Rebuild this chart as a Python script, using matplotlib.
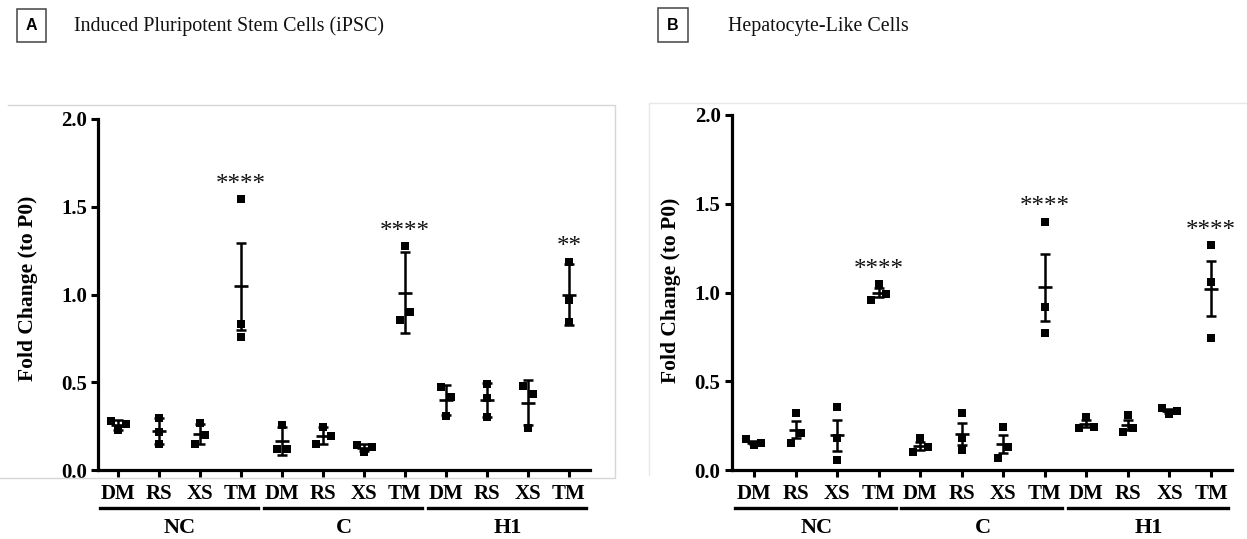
import numpy as np
import matplotlib
matplotlib.use("Agg")
import matplotlib.pyplot as plt
from matplotlib.lines import Line2D
from matplotlib.patches import Rectangle
from matplotlib.transforms import blended_transform_factory, ScaledTranslation

# ---------------------------------------------------------------- data
treatments = ["DM", "RS", "XS", "TM"]
cell_lines = ["NC", "C", "H1"]

# triplicate fold changes (to P0), one list per cell line x treatment
ipsc_values = [
    [0.281, 0.228, 0.260], [0.295, 0.218, 0.150], [0.266, 0.148, 0.200], [1.544, 0.833, 0.760],
    [0.256, 0.118, 0.118], [0.146, 0.243, 0.195], [0.142, 0.104, 0.133], [0.852, 1.278, 0.903],
    [0.475, 0.418, 0.308], [0.490, 0.409, 0.300], [0.479, 0.432, 0.238], [1.188, 0.966, 0.846],
]
ipsc_error = [0.027, 0.073, 0.059, 0.250, 0.080, 0.049, 0.020, 0.233, 0.085, 0.095, 0.128, 0.174]
ipsc_sig = ["", "", "", "****", "", "", "", "****", "", "", "", "**"]

hlc_values = [
    [0.173, 0.141, 0.150], [0.323, 0.154, 0.207], [0.353, 0.178, 0.056], [0.958, 1.048, 0.993],
    [0.103, 0.178, 0.128], [0.323, 0.178, 0.114], [0.244, 0.070, 0.128], [1.399, 0.920, 0.770],
    [0.238, 0.300, 0.244], [0.310, 0.216, 0.235], [0.351, 0.314, 0.332], [1.268, 1.057, 0.742],
]
hlc_error = [0.010, 0.050, 0.086, 0.026, 0.022, 0.062, 0.051, 0.190, 0.020, 0.029, 0.011, 0.153]
hlc_sig = ["", "", "", "****", "", "", "", "****", "", "", "", "****"]

y_ticks = [0.0, 0.5, 1.0, 1.5, 2.0]

# ---------------------------------------------------------------- figure
W, H, DPI = 1247, 539, 100
plt.rcParams["font.family"] = ["Liberation Serif", "DejaVu Serif"]
fig = plt.figure(figsize=(W / DPI, H / DPI), dpi=DPI)


def px_box(x0, y0, x1, y1):
    """Axes rectangle from pixel corners (top-left origin)."""
    return [x0 / W, 1 - y1 / H, (x1 - x0) / W, (y1 - y0) / H]


def fig_line(xs, ys, color, lw):
    fig.add_artist(Line2D([x / W for x in xs], [1 - y / H for y in ys],
                          transform=fig.transFigure, color=color, lw=lw))


def swarm_offsets(vals, y_thr, pair_dx, trip_dx):
    """Spread replicates that would overlap vertically, GraphPad style."""
    vals = np.asarray(vals)
    order = np.argsort(vals)
    clusters, cur = [], [order[0]]
    for a, b in zip(order[:-1], order[1:]):
        if vals[b] - vals[a] < y_thr:
            cur.append(b)
        else:
            clusters.append(cur)
            cur = [b]
    clusters.append(cur)
    off = np.zeros(len(vals))
    for cl in clusters:
        cl = sorted(cl)
        if len(cl) == 2:
            off[cl[0]], off[cl[1]] = -pair_dx, pair_dx
        elif len(cl) >= 3:
            for k, i in enumerate(cl):
                off[i] = (k - (len(cl) - 1) / 2) * trip_dx
    return off


def draw_panel(rect, xlim, values, errors, sigs, ylab_xy):
    ax = fig.add_axes(rect)
    ax.set_xlim(*xlim)
    ax.set_ylim(0, 2.0)
    for s in ("top", "right"):
        ax.spines[s].set_visible(False)
    for s in ("left", "bottom"):
        ax.spines[s].set_linewidth(2.3)
        ax.spines[s].set_capstyle("projecting")

    n = len(cell_lines) * len(treatments)
    pos = np.arange(n)
    ax.set_xticks(pos)
    ax.set_xticklabels(treatments * len(cell_lines))
    ax.set_yticks(y_ticks)
    ax.set_yticklabels([f"{t:.1f}" for t in y_ticks])
    ax.tick_params(axis="both", direction="out", length=5, width=2.2,
                   labelsize=15, pad=3)
    ax.tick_params(axis="x", pad=5)
    for lab in ax.get_xticklabels() + ax.get_yticklabels():
        lab.set_fontweight("bold")

    # pixel scales for the swarm spread
    p0 = ax.transData.transform((0, 0))
    p1 = ax.transData.transform((1, 1))
    px_x, px_y = p1[0] - p0[0], p1[1] - p0[1]

    for i in range(n):
        vals = np.asarray(values[i])
        m = vals.mean()
        offs = swarm_offsets(vals, 11 / px_y, 5 / px_x, 7.5 / px_x)
        ax.errorbar(pos[i], m, yerr=errors[i], fmt="none", ecolor="black",
                    elinewidth=1.8, capsize=3.4, capthick=1.8, zorder=2)
        ax.plot(pos[i], m, marker="_", ms=10, mew=1.9, color="black", zorder=2)
        ax.plot(pos[i] + offs, vals, "s", ms=5.5, color="black", mew=0, zorder=3)
        if sigs[i]:
            star_y = vals.max() + 0.115
            tr = ax.transData + ScaledTranslation(0, -12 / DPI, fig.dpi_scale_trans)
            ax.text(pos[i], star_y, sigs[i], ha="center", va="baseline",
                    fontsize=18, transform=tr, color="#111111")

    # group underlines and cell-line names
    base = blended_transform_factory(ax.transData, ax.transAxes)
    tr_line = base + ScaledTranslation(0, -38 / DPI, fig.dpi_scale_trans)
    tr_name = base + ScaledTranslation(0, -58 / DPI, fig.dpi_scale_trans)
    for g, name in enumerate(cell_lines):
        first = g * len(treatments)
        last = first + len(treatments) - 1
        ax.add_line(Line2D([first - 0.45, last + 0.42], [0, 0], transform=tr_line,
                           color="black", lw=2.4, clip_on=False))
        ax.text((first + last) / 2, 0, name, transform=tr_name, ha="center",
                va="center", fontsize=16, fontweight="bold")

    ax.set_ylabel("Fold Change (to P0)", fontsize=15.5, fontweight="bold")
    ax.yaxis.set_label_coords(*ylab_xy)
    return ax


# light frames around the two figure panels
fig_line([8, 615, 615, 0], [105, 105, 478, 478], "#d6d6d6", 1.0)
fig_line([1247, 649, 649], [103, 103, 475], "#e8e8e8", 1.0)

draw_panel(px_box(98, 119, 590, 470), (-20 / 41, 11 + 21 / 41),
           ipsc_values, ipsc_error, ipsc_sig, (-0.122, 0.518))
draw_panel(px_box(731.7, 115, 1232, 470), (-22.3 / 41.55, 11 + 21 / 41.55),
           hlc_values, hlc_error, hlc_sig, (-0.101, 0.505))

# panel letters and titles
for (bx0, by0, bx1, by1), letter, tx, title in [
        ((17, 9, 46, 42), "A", 74, "Induced Pluripotent Stem Cells (iPSC)"),
        ((658, 8, 688, 42), "B", 728, "Hepatocyte-Like Cells")]:
    fig.add_artist(Rectangle((bx0 / W, 1 - by1 / H), (bx1 - bx0) / W, (by1 - by0) / H,
                             transform=fig.transFigure, fill=False,
                             edgecolor="#444444", lw=1.1))
    fig.text((bx0 + bx1) / 2 / W, 1 - (by0 + by1) / 2 / H, letter,
             ha="center", va="center", fontsize=11.5, fontweight="bold",
             family=["Liberation Sans", "DejaVu Sans"])
    fig.text(tx / W, 1 - 26 / H, title, ha="left", va="center", fontsize=14.4,
             color="#111111")

fig.savefig("out.png", dpi=DPI)
